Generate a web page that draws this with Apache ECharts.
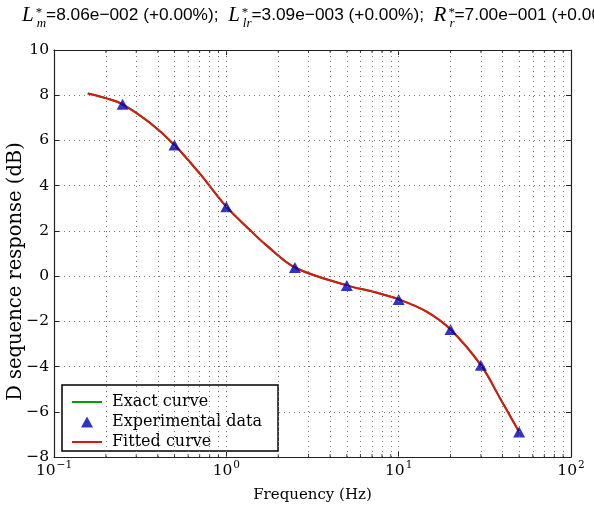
<!DOCTYPE html>
<html>
<head>
<meta charset="utf-8">
<script src="https://cdn.jsdelivr.net/npm/echarts@6/dist/echarts.min.js"></script>
<style>html,body{margin:0;padding:0;background:#fff}#c{width:594px;height:509px}</style>
</head>
<body>
<div id="c"></div>
<script>
// Experimental data (triangles)
const expFreq = [0.25, 0.5, 1, 2.5, 5, 10, 20, 30, 50];
const expDb = [7.6, 5.8, 3.07, 0.38, -0.41, -1.03, -2.36, -3.94, -6.89];
// Fitted curve
const fitFreq = [0.157, 0.2, 0.25, 0.36, 0.5, 0.7, 1, 1.37, 1.71, 2.5, 5, 7.1, 10, 14.6, 20, 30, 38.8, 50];
const fitDb = [8.08, 7.87, 7.6, 6.78, 5.8, 4.54, 3.07, 2.04, 1.36, 0.38, -0.41, -0.69, -1.03, -1.58, -2.36, -3.94, -5.41, -6.89];
// Exact curve (hidden under the fitted curve)
const exactFreq = fitFreq;
const exactDb = fitDb;
// Grid lines / ticks
const gridX = [0.2,0.3,0.4,0.5,0.6,0.7,0.8,0.9,1,2,3,4,5,6,7,8,9,10,20,30,40,50,60,70,80,90];
const minorX = [0.2,0.3,0.4,0.5,0.6,0.7,0.8,0.9,2,3,4,5,6,7,8,9,20,30,40,50,60,70,80,90];
const xMin = 0.1, xMax = 100, yMin = -8, yMax = 10, yStep = 2;
const legendNames = ['Exact curve', 'Experimental data', 'Fitted curve'];

const serif = 'DejaVu Serif';
const chart = echarts.init(document.getElementById('c'));
const pair = (xs, ys) => xs.map((x, i) => [x, ys[i]]);
const minus = s => String(s).replace('-', '\u2212');

const dotStyle = { type: [1, 4], color: '#777', width: 1 };
const lineIcon = 'path://M0,0h30v2h-30z';
const triIcon = 'path://M0,0h0.05v0.05h-0.05zM30,14h-0.05v-0.05h0.05zM15,1.5L21,12.5L9,12.5Z';

chart.setOption({
  animation: false,
  title: {
    left: 22, top: 5, padding: 0,
    text: '{L|L}{st|*}{sb|m}{t|=8.06e\u2212002 (+0.00%);  }{L|L}{st|*}{sb|lr}{t|=3.09e\u2212003 (+0.00%);  }{L|R}{st|*}{sb|r}{t|=7.00e\u2212001 (+0.00%)}',
    textStyle: {
      fontWeight: 'normal',
      rich: {
        t: { fontFamily: 'Liberation Sans', fontWeight: 'normal', fontSize: 17.3, lineHeight: 18, color: '#000' },
        L: { fontFamily: 'Liberation Serif', fontWeight: 'normal', fontStyle: 'italic', fontSize: 21, lineHeight: 21, color: '#000' },
        st: { fontFamily: 'Liberation Serif', fontWeight: 'normal', fontSize: 13, lineHeight: 13, width: 1, padding: [0,0,6,2], color: '#000' },
        sb: { fontFamily: 'Liberation Serif', fontWeight: 'normal', fontStyle: 'italic', fontSize: 13, lineHeight: 13, padding: [16,0,0,0], color: '#000' }
      }
    }
  },
  grid: { left: 54, right: 23, top: 50, bottom: 52, outerBoundsMode: 'none', containLabel: false },
  legend: {
    data: [
      { name: legendNames[0], icon: lineIcon },
      { name: legendNames[1], icon: triIcon },
      { name: legendNames[2], icon: lineIcon }
    ],
    orient: 'vertical', left: 62, top: 385,
    itemWidth: 30, itemHeight: 14, itemGap: 4,
    padding: [9, 16, 1, 10],
    borderColor: '#000', borderWidth: 1.5, backgroundColor: '#fff',
    textStyle: { fontFamily: serif, fontSize: 16, color: '#000', padding: [0,0,0,5] }
  },
  xAxis: [{
    type: 'log', logBase: 10, min: xMin, max: xMax,
    name: 'Frequency (Hz)', nameLocation: 'middle', nameGap: 31,
    nameTextStyle: { fontFamily: serif, fontSize: 15, color: '#000' },
    axisLine: { onZero: false, lineStyle: { color: '#222', width: 1.2 } },
    axisTick: { inside: true, length: 5, lineStyle: { color: '#222' } },
    splitLine: { show: false },
    axisLabel: {
      margin: 6,
      formatter: v => '{b|10}{s|' + minus(Math.round(Math.log10(v))) + '}',
      rich: {
        b: { fontFamily: serif, fontSize: 15.5, lineHeight: 16, color: '#000' },
        s: { fontFamily: serif, fontSize: 10.5, lineHeight: 10, padding: [0,0,12,1], color: '#000' }
      }
    }
  }, {
    type: 'log', logBase: 10, min: xMin, max: xMax, position: 'top',
    axisLine: { onZero: false, lineStyle: { color: '#222', width: 1.2 } },
    axisTick: { inside: true, length: 5, lineStyle: { color: '#222' } },
    axisLabel: { show: false }, splitLine: { show: false }
  }],
  yAxis: [{
    type: 'value', min: yMin, max: yMax, interval: yStep,
    name: 'D sequence response (dB)', nameLocation: 'middle', nameGap: 28,
    nameMoveOverlap: false,
    nameTextStyle: { fontFamily: serif, fontSize: 19.5, color: '#000', padding: [0, 36, 0, 0] },
    axisLine: { show: true, onZero: false, lineStyle: { color: '#222', width: 1.2 } },
    axisTick: { show: true, inside: true, length: 5, lineStyle: { color: '#222' } },
    splitLine: { show: true, lineStyle: dotStyle },
    axisLabel: { margin: 5, fontFamily: serif, fontSize: 15.5, color: '#000', formatter: v => minus(v) }
  }, {
    type: 'value', min: yMin, max: yMax, interval: yStep, position: 'right',
    axisLine: { show: true, onZero: false, lineStyle: { color: '#222', width: 1.2 } },
    axisTick: { show: true, inside: true, length: 5, lineStyle: { color: '#222' } },
    axisLabel: { show: false }, splitLine: { show: false }
  }],
  series: [
    {
      name: 'grid', type: 'line', data: [], silent: true, z: 1,
      markLine: {
        silent: true, symbol: ['none', 'none'], label: { show: false },
        lineStyle: dotStyle, emphasis: { disabled: true },
        data: gridX.map(x => ({ xAxis: x }))
      }
    },
    {
      name: 'minorBottom', type: 'scatter', silent: true, z: 5,
      data: minorX.map(x => [x, yMin]), symbol: 'rect', symbolSize: [1, 3], symbolOffset: [0, -1.5],
      itemStyle: { color: '#222' }, clip: false
    },
    {
      name: 'minorTop', type: 'scatter', silent: true, z: 5,
      data: minorX.map(x => [x, yMax]), symbol: 'rect', symbolSize: [1, 3], symbolOffset: [0, 1.5],
      itemStyle: { color: '#222' }, clip: false
    },
    {
      name: 'Exact curve', type: 'line', data: pair(exactFreq, exactDb), smooth: 0.35,
      symbol: 'none', lineStyle: { color: '#00a000', width: 2 }, itemStyle: { color: '#00a000' }, z: 2
    },
    {
      name: 'Fitted curve', type: 'line', data: pair(fitFreq, fitDb), smooth: 0.35,
      symbol: 'none', lineStyle: { color: '#dd1515', width: 2 }, itemStyle: { color: '#dd1515' }, z: 3
    },
    {
      name: 'Experimental data', type: 'scatter', data: pair(expFreq, expDb),
      symbol: 'triangle', symbolSize: [12, 11], itemStyle: { color: '#0000b4' }, z: 4
    }
  ]
});
</script>
</body>
</html>
